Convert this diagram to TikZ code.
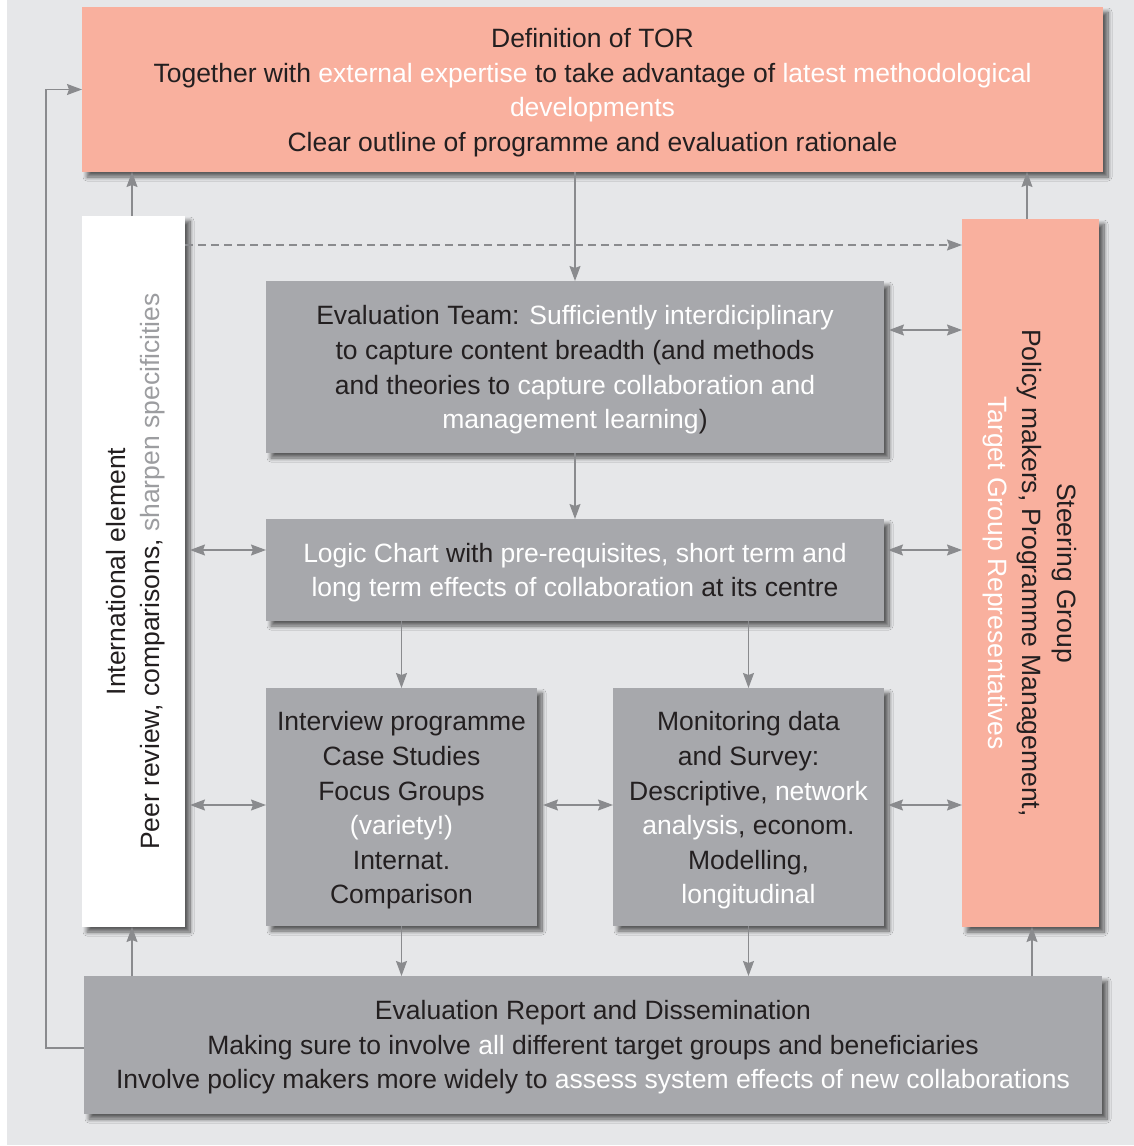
\documentclass[tikz,border=0pt]{standalone}
\usepackage{fontspec}
\setmainfont{Liberation Sans}
\usetikzlibrary{arrows.meta,shadows.blur,calc}
\definecolor{salmon}{HTML}{F9B09E}
\definecolor{boxgray}{HTML}{A7A8AC}
\definecolor{bggray}{HTML}{E6E7E9}
\definecolor{linegray}{HTML}{8A8B8E}
\definecolor{ink}{HTML}{231F20}
\definecolor{softgray}{HTML}{9C9DA0}
\begin{document}
\begin{tikzpicture}[x=1pt,y=-1pt,
  txt/.style={align=center, text=ink, inner sep=0pt, outer sep=0pt, font=\fontsize{26.5}{34.6}\selectfont},
  box/.style={inner sep=0pt, outer sep=0pt, anchor=north west,
    blur shadow={shadow xshift=5pt, shadow yshift=-5pt, shadow blur radius=4pt, shadow blur steps=10, shadow opacity=60}},
  pinkbox/.style={box, fill=salmon},
  greybox/.style={box, fill=boxgray},
  whitebox/.style={box, fill=white},
  tip/.tip={Stealth[length=15pt,width=11pt,inset=2pt]},
  conn/.style={draw=linegray, line width=1.3pt, -tip},
  biconn/.style={draw=linegray, line width=1.3pt, tip-tip},
  dashconn/.style={conn, dashed, dash pattern=on 8pt off 5pt}
]
\useasboundingbox (0,0) rectangle (1134,1146);
\fill[white] (0,0) rectangle (1134,1146);
\fill[bggray] (7,0) rectangle (1134,1145);

% boxes
\node[pinkbox, minimum width=1021pt, minimum height=165pt] (tor) at (82,7) {};
\node[whitebox, minimum width=103pt, minimum height=711pt] (lft) at (82,216) {};
\node[pinkbox, minimum width=137pt, minimum height=708pt] (rgt) at (962,219) {};
\node[greybox, minimum width=618pt, minimum height=172pt] (eval) at (266,281) {};
\node[greybox, minimum width=618pt, minimum height=102pt] (logic) at (266,519) {};
\node[greybox, minimum width=271pt, minimum height=238pt] (intv) at (266,688) {};
\node[greybox, minimum width=271pt, minimum height=238pt] (mon) at (613,688) {};
\node[greybox, minimum width=1018pt, minimum height=138pt] (rep) at (84,976) {};

% texts
\node[txt] (tor-t) at ([yshift=-3pt]tor.center)
 {Definition of TOR\\
  Together with \textcolor{white}{external expertise} to take advantage of \textcolor{white}{latest methodological}\\
  \textcolor{white}{developments}\\
  Clear outline of programme and evaluation rationale};
\node[txt] (eval-t) at ([yshift=-3pt]eval.center)
 {Evaluation Team: \textcolor{white}{Sufficiently interdiciplinary}\\
  to capture content breadth (and methods\\
  and theories to \textcolor{white}{capture collaboration and}\\
  \textcolor{white}{management learning})};
\node[txt] (logic-t) at ([yshift=-2.5pt]logic.center)
 {\textcolor{white}{Logic Chart} with \textcolor{white}{pre-requisites, short term and}\\
  \textcolor{white}{long term effects of collaboration} at its centre};
\node[txt] (intv-t) at ([yshift=-3.5pt]intv.center)
 {Interview programme\\Case Studies\\Focus Groups\\\textcolor{white}{(variety!)}\\Internat.\\Comparison};
\node[txt] (mon-t) at ([yshift=-3.5pt]mon.center)
 {Monitoring data\\and Survey:\\Descriptive, \textcolor{white}{network}\\\textcolor{white}{analysis}, econom.\\Modelling,\\\textcolor{white}{longitudinal}};
\node[txt] (rep-t) at ([yshift=-2.5pt]rep.center)
 {Evaluation Report and Dissemination\\
  Making sure to involve \textcolor{white}{all} different target groups and beneficiaries\\
  Involve policy makers more widely to \textcolor{white}{assess system effects of new collaborations}};
\node[txt, rotate=90] (lft-t) at ([xshift=2pt]lft.center)
 {International element\\Peer review, comparisons, \textcolor{softgray}{sharpen specificities}};
\node[txt, rotate=-90] (rgt-t) at ([xshift=-1pt]rgt.center)
 {Steering Group\\Policy makers, Programme Management,\\\textcolor{white}{Target Group Representatives}};

% connectors
\draw[conn] (eval.north |- tor.south) -- (eval.north);
\draw[conn] ([xshift=-1.5pt]lft.north) -- ([xshift=-1.5pt]lft.north |- tor.south);
\draw[conn] ([xshift=-3.5pt]rgt.north) -- ([xshift=-3.5pt]rgt.north |- tor.south);
\draw[dashconn] (lft.east |- 0,245) -- (rgt.west |- 0,245);
\draw[biconn, shorten <=5pt] (eval.east |- 0,330) -- (rgt.west |- 0,330);
\draw[conn] (eval.south) -- (logic.north);
\draw[biconn, shorten <=5pt] (lft.east |- 0,550) -- (logic.west |- 0,550);
\draw[biconn, shorten <=4pt] (logic.east |- 0,550) -- (rgt.west |- 0,550);
\draw[conn] (intv.north |- logic.south) -- (intv.north);
\draw[conn] (mon.north |- logic.south) -- (mon.north);
\draw[biconn, shorten <=5pt] (lft.east |- 0,805) -- (intv.west |- 0,805);
\draw[biconn, shorten <=6pt] (intv.east |- 0,805) -- (mon.west |- 0,805);
\draw[biconn, shorten <=4pt] (mon.east |- 0,805) -- (rgt.west |- 0,805);
\draw[conn] (intv.south) -- (intv.south |- rep.north);
\draw[conn] (mon.south) -- (mon.south |- rep.north);
\draw[conn] ([xshift=-1.5pt]lft.south |- rep.north) -- ([xshift=-1.5pt]lft.south);
\draw[conn] ([xshift=1.5pt]rgt.south |- rep.north) -- ([xshift=1.5pt]rgt.south);
\draw[conn] ([yshift=-3pt]rep.west) -- ++(-38,0) |- (tor.west);
\end{tikzpicture}
\end{document}
